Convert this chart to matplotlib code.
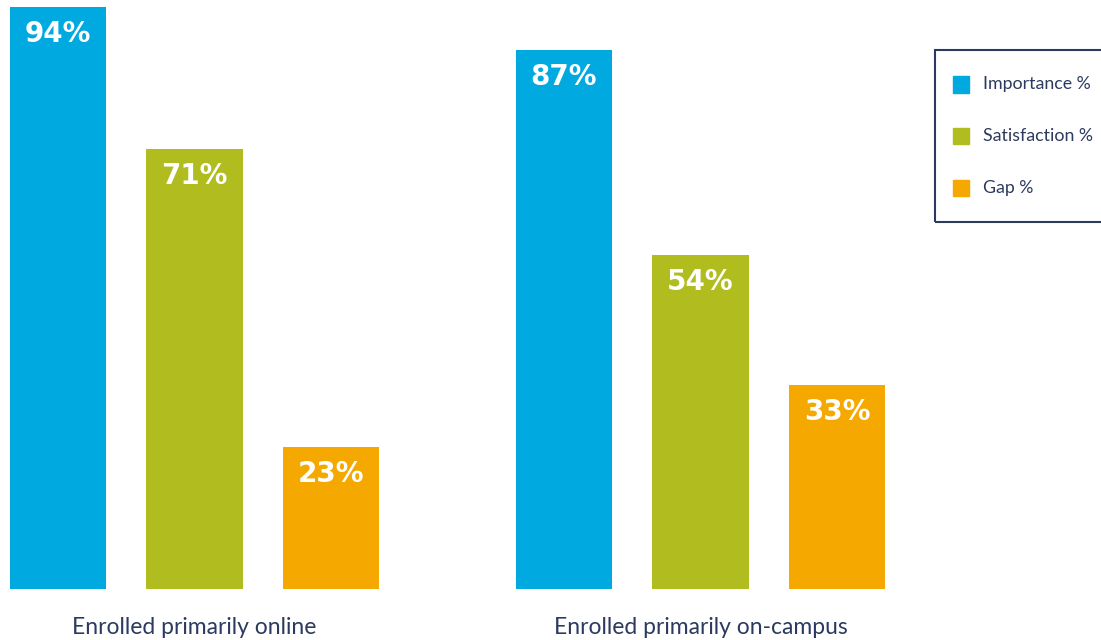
import matplotlib
matplotlib.use("Agg")
import matplotlib.pyplot as plt
from matplotlib.patches import Rectangle
import numpy as np

groups = ["Enrolled primarily online", "Enrolled primarily on-campus"]
series = ["Importance %", "Satisfaction %", "Gap %"]
importance = [94, 87]
satisfaction = [71, 54]
gap = [23, 33]
colors = ["#00A9E0", "#B1BC1F", "#F5A800"]
navy = "#2B3A5E"

W, H = 1101, 640
fig = plt.figure(figsize=(W / 100, H / 100), dpi=100)
ax = fig.add_axes([0, 51 / H, 1, 582 / H])
ax.set_xlim(-194.5 / 506, (W - 194.5) / 506)
ax.set_ylim(0, 94)
ax.axis("off")

x = np.arange(len(groups))
step = 0.27
width = 0.19
for i, (vals, col) in enumerate(zip([importance, satisfaction, gap], colors)):
    bars = ax.bar(x + (i - 1) * step, vals, width=width, color=col, clip_on=False)
    for b, v in zip(bars, vals):
        ax.annotate(f"{v}%", (b.get_x() + b.get_width() / 2, v),
                    xytext=(0, -27), textcoords="offset pixels",
                    ha="center", va="center", color="white",
                    fontsize=20, fontweight="heavy", family="DejaVu Sans")

for xi, g in zip(x, groups):
    ax.annotate(g, (xi, 0), xytext=(0, -38), textcoords="offset pixels",
                ha="center", va="center", color=navy, fontsize=16.5,
                family="Lato", annotation_clip=False)

# legend box, anchored in figure pixels
fig.patches.append(Rectangle((935 / W, 1 - 222 / H), 200 / W, 172 / H,
                             transform=fig.transFigure, fill=False,
                             edgecolor=navy, linewidth=1.5))
for k, (name, col) in enumerate(zip(series, colors)):
    yc = 84.5 + k * 51.5
    fig.patches.append(Rectangle((953 / W, 1 - (yc + 8) / H), 16 / W, 16 / H,
                                 transform=fig.transFigure, color=col))
    fig.text(983 / W, 1 - yc / H, name, ha="left", va="center",
             color=navy, fontsize=12.8, family="Lato")

fig.savefig("out.png", dpi=100)
